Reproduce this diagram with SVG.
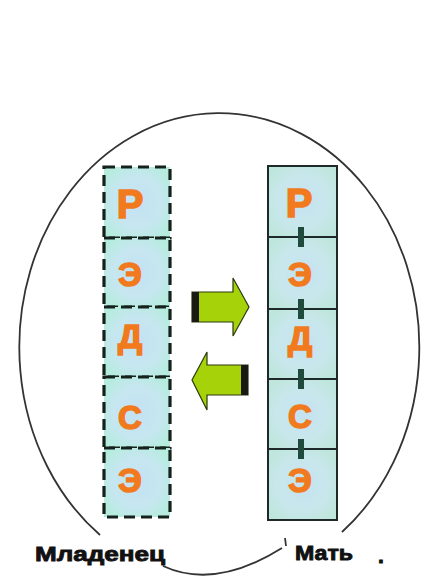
<svg xmlns="http://www.w3.org/2000/svg" width="425" height="581" viewBox="0 0 425 581">
<defs>
<radialGradient id="cellL" cx="0.5" cy="0.5" r="0.6">
<stop offset="0" stop-color="#c3e2f3"/><stop offset="0.6" stop-color="#c6e6f0"/><stop offset="1" stop-color="#b6ecde"/>
</radialGradient>
<radialGradient id="cellR" cx="0.5" cy="0.5" r="0.6">
<stop offset="0" stop-color="#c4e2f0"/><stop offset="0.6" stop-color="#c8e7ec"/><stop offset="1" stop-color="#bfe6dc"/>
</radialGradient>
</defs>
<style>
.lcell{fill:url(#cellL);stroke:#15221c;stroke-width:3.2;stroke-dasharray:11 6}
.rcell{fill:url(#cellR);stroke:#1e2a2a;stroke-width:2}
.let{font-family:"Liberation Sans",Arial,sans-serif;font-weight:bold;fill:#f27a1e;stroke:#f27a1e;stroke-width:1.6;text-anchor:middle}
.lbl{font-family:"Liberation Sans",Arial,sans-serif;font-weight:bold;fill:#111;stroke:#111;stroke-width:0.9;font-size:21px}
.clip{fill:#1f4a3c}
.arr{fill:#a6d20a;stroke:#2a3a10;stroke-width:1.2}
.line{fill:none;stroke:#333;stroke-width:1.8}
</style>
<rect width="425" height="581" fill="#fff"/>
<g id="frame">
<path class="line" d="M100,535 A200,234 0 1 1 342,532"/>
<path class="line" d="M163,566 Q215,590 282,548"/>
<path class="line" d="M285,538 L286,546"/>
</g>
<g id="infant">
<g id="l1"><rect class="lcell" x="104" y="167" width="66" height="71"/><text class="let" x="130" y="218" font-size="40">Р</text></g>
<g id="l2"><rect class="lcell" x="104" y="238" width="66" height="69"/><text class="let" x="130" y="286" font-size="33">Э</text></g>
<g id="l3"><rect class="lcell" x="104" y="307" width="66" height="70"/><text class="let" x="130" y="348" font-size="34">Д</text></g>
<g id="l4"><rect class="lcell" x="104" y="377" width="66" height="71"/><text class="let" x="130" y="429" font-size="33">С</text></g>
<g id="l5"><rect class="lcell" x="104" y="448" width="66" height="69"/><text class="let" x="130" y="492" font-size="33">Э</text></g>
</g>
<g id="mother">
<g id="r1"><rect class="rcell" x="268" y="166" width="69" height="71"/><text class="let" x="299" y="217" font-size="40">Р</text></g>
<g id="r2"><rect class="rcell" x="268" y="237" width="69" height="72"/><text class="let" x="300" y="286" font-size="33">Э</text></g>
<g id="r3"><rect class="rcell" x="268" y="309" width="69" height="70"/><text class="let" x="300" y="350" font-size="34">Д</text></g>
<g id="r4"><rect class="rcell" x="268" y="379" width="69" height="70"/><text class="let" x="300" y="428" font-size="33">С</text></g>
<g id="r5"><rect class="rcell" x="268" y="449" width="69" height="71"/><text class="let" x="300" y="492" font-size="33">Э</text></g>
<rect class="clip" x="298" y="227" width="6" height="20"/>
<rect class="clip" x="298" y="299" width="6" height="20"/>
<rect class="clip" x="298" y="369" width="6" height="20"/>
<rect class="clip" x="298" y="439" width="6" height="20"/>
</g>
<g id="connectors">
<g id="arrow-right">
<path class="arr" d="M192,292 H233 V278 L249,307 L233,336 V322 H192 Z"/>
<rect x="192" y="292" width="7" height="30" fill="#1a1a12"/>
</g>
<g id="arrow-left">
<path class="arr" d="M248,365 H207 V352 L192,380 L207,410 V395 H248 Z"/>
<rect x="241" y="365" width="7" height="30" fill="#1a1a12"/>
</g>
</g>
<g id="labels">
<text class="lbl" x="35" y="561" textLength="130" lengthAdjust="spacingAndGlyphs">Младенец</text>
<text class="lbl" x="295" y="560" textLength="58" lengthAdjust="spacingAndGlyphs">Мать</text>
<text class="lbl" x="378" y="563" font-size="14">.</text>
</g>
</svg>
